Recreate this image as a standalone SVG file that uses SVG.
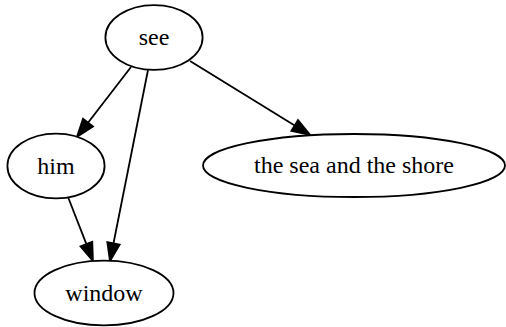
<svg xmlns="http://www.w3.org/2000/svg" width="506" height="327" viewBox="0 0 506 327">
<style>
.node ellipse{fill:#fff;stroke:#000;stroke-width:1.8}
.node text{font-family:"Liberation Serif","Times New Roman",serif;font-size:24px;fill:#000;text-anchor:middle}
.edge{stroke:#000;stroke-width:1.8;fill:none;marker-end:url(#ah)}
</style>
<defs>
<marker id="ah" markerUnits="userSpaceOnUse" markerWidth="20" markerHeight="14" refX="0" refY="0" orient="auto" overflow="visible">
<path d="M0,-6.3 L18,0 L0,6.3 Z" fill="#000" stroke="#000" stroke-width="1.8" stroke-linejoin="miter"/>
</marker>
</defs>
<rect width="506" height="327" fill="#fff"/>
<g id="connectors">
<path class="edge" d="M131,67 L88,122.7"/>
<path class="edge" d="M148,70 L113.5,243.3"/>
<path class="edge" d="M68,197 L86.4,244.2"/>
<path class="edge" d="M190,61 L294.7,125.5"/>
</g>
<g id="node-see" class="node"><ellipse cx="154" cy="37.5" rx="48.6" ry="32.4"/><text x="154" y="45">see</text></g>
<g id="node-him" class="node"><ellipse cx="56" cy="166" rx="48.6" ry="32.4"/><text x="56" y="173.5">him</text></g>
<g id="node-sea" class="node"><ellipse cx="354" cy="165.5" rx="151" ry="31.5"/><text x="354" y="173">the sea and the shore</text></g>
<g id="node-window" class="node"><ellipse cx="104" cy="293" rx="69.5" ry="32.4"/><text x="104" y="300.5">window</text></g>
</svg>
